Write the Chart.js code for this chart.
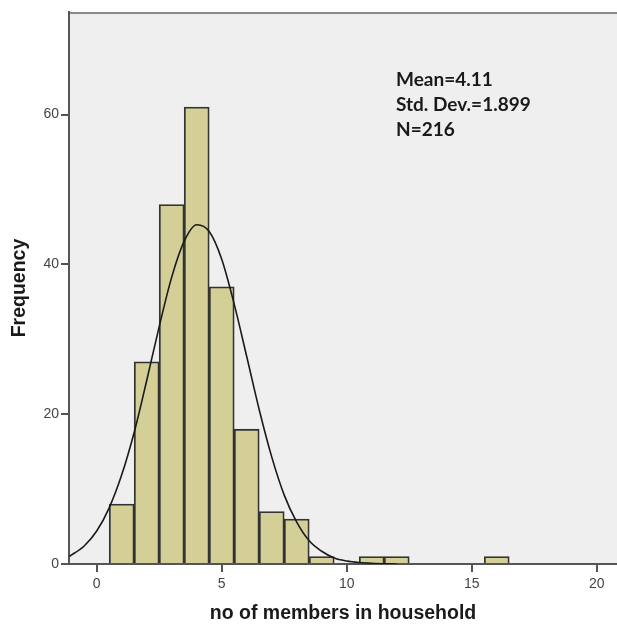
<!DOCTYPE html>
<html>
<head>
<meta charset="utf-8">
<title>no of members in household</title>
<script src="https://cdn.jsdelivr.net/npm/chart.js@4.4.1/dist/chart.umd.min.js"></script>
<style>
  html, body { margin: 0; padding: 0; background: #fff; }
  #wrap { width: 617px; height: 626px; }
</style>
</head>
<body>
<div id="wrap"><canvas id="histCanvas" width="617" height="626"></canvas></div>
<script>
// --- data ---
const binCenters = [1, 2, 3, 4, 5, 6, 7, 8, 9, 11, 12, 16];
const binCounts  = [8, 27, 48, 61, 37, 18, 7, 6, 1, 1, 1, 1];

// normal curve
const curveX = [-1.1, -0.5, 0, 0.5, 1, 1.5, 2, 2.5, 3, 3.5, 4, 4.5, 5, 5.5, 6, 6.5, 7, 7.5, 8, 8.5, 9, 9.5, 10, 10.5, 11, 12];
const curveY = [1.0, 2.4, 4.4, 7.5, 11.9, 17.6, 24.5, 31.7, 38.3, 43.1, 45.3, 44.4, 40.7, 34.7, 27.7, 20.6, 14.3, 9.2, 5.6, 3.1, 1.7, 0.8, 0.4, 0.2, 0.1, 0];

const xTicks = [0, 5, 10, 15, 20];
const yTicks = [0, 20, 40, 60];
const statLines = ['Mean=4.11', 'Std. Dev.=1.899', 'N=216'];

// --- plot frame: grey background + top line, stats text ---
const frame = {
  id: 'frame',
  beforeDraw(chart) {
    const { ctx, chartArea: a } = chart;
    ctx.save();
    ctx.fillStyle = '#efefef';
    ctx.fillRect(a.left, a.top, a.right - a.left, a.bottom - a.top);
    ctx.strokeStyle = '#8a8a8a';
    ctx.lineWidth = 2;
    ctx.beginPath();
    ctx.moveTo(a.left, a.top + 1);
    ctx.lineTo(a.right, a.top + 1);
    ctx.stroke();
    ctx.restore();
  },
  afterDraw(chart) {
    const { ctx, chartArea: a } = chart;
    ctx.save();
    ctx.fillStyle = '#1a1a1a';
    ctx.font = 'bold 19px Lato';
    ctx.textBaseline = 'alphabetic';
    statLines.forEach((t, i) => ctx.fillText(t, a.left + 327, a.top + 74 + i * 25));
    ctx.restore();
  }
};

const ctx = document.getElementById('histCanvas').getContext('2d');

new Chart(ctx, {
  type: 'bar',
  data: {
    datasets: [
      {
        type: 'line',
        data: curveX.map((x, i) => ({ x: x, y: curveY[i] })),
        borderColor: '#1a1a1a',
        borderWidth: 1.6,
        pointRadius: 0,
        fill: false,
        cubicInterpolationMode: 'monotone',
        order: 0
      },
      {
        type: 'bar',
        data: binCenters.map((x, i) => ({ x: x, y: binCounts[i] })),
        backgroundColor: '#d3cf97',
        borderColor: '#333333',
        borderWidth: 1.8,
        barPercentage: 1,
        categoryPercentage: 1,
        order: 1
      }
    ]
  },
  options: {
    responsive: false,
    animation: false,
    layout: { padding: { top: 12, right: 0, left: 0, bottom: 0 } },
    plugins: {
      legend: { display: false },
      tooltip: { enabled: false }
    },
    scales: {
      x: {
        type: 'linear',
        min: -1.108,
        max: 20.81,
        offset: false,
        afterBuildTicks: s => { s.ticks = xTicks.map(v => ({ value: v })); },
        afterFit: s => { s.height = 62; },
        grid: { display: true, drawOnChartArea: false, drawTicks: true, tickLength: 8, color: '#555', lineWidth: 2, offset: false },
        border: { display: true, color: '#555', width: 2 },
        ticks: { padding: 4, color: '#444', font: { family: 'Liberation Sans', size: 14 }, maxRotation: 0 },
        title: {
          display: true,
          text: 'no of members in household',
          color: '#1a1a1a',
          font: { family: 'Liberation Sans', size: 19.5, weight: 'bold' },
          padding: { top: 0, bottom: 1 }
        }
      },
      y: {
        type: 'linear',
        min: 0,
        max: 73.7,
        afterBuildTicks: s => { s.ticks = yTicks.map(v => ({ value: v })); },
        afterFit: s => { s.width = 69; },
        grid: { display: true, drawOnChartArea: false, drawTicks: true, tickLength: 8, color: '#555', lineWidth: 2 },
        border: { display: true, color: '#555', width: 2 },
        ticks: { padding: 2, color: '#444', font: { family: 'Liberation Sans', size: 14 } },
        title: {
          display: true,
          text: 'Frequency',
          color: '#1a1a1a',
          font: { family: 'Liberation Sans', size: 19.5, weight: 'bold' },
          padding: { top: 8, bottom: 0 }
        }
      }
    }
  },
  plugins: [frame]
});
</script>
</body>
</html>
